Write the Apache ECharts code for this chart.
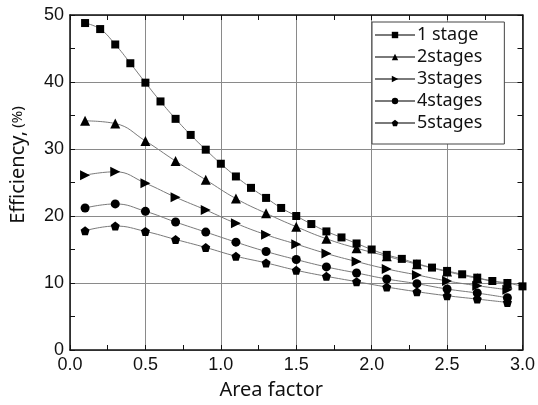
<!DOCTYPE html>
<html>
<head>
<meta charset="utf-8">
<script src="https://cdn.jsdelivr.net/npm/echarts@6/dist/echarts.min.js"></script>
<style>html,body{margin:0;padding:0;background:#fff;}#c{width:538px;height:405px;}</style>
</head>
<body>
<div id="c"></div>
<script>
var xFine = [0.1,0.2,0.3,0.4,0.5,0.6,0.7,0.8,0.9,1.0,1.1,1.2,1.3,1.4,1.5,1.6,1.7,1.8,1.9,2.0,2.1,2.2,2.3,2.4,2.5,2.6,2.7,2.8,2.9,3.0];
var xCoarse = [0.1,0.3,0.5,0.7,0.9,1.1,1.3,1.5,1.7,1.9,2.1,2.3,2.5,2.7,2.9];
var stage1 = [48.8,47.9,45.6,42.8,39.9,37.1,34.5,32.1,29.9,27.8,25.9,24.2,22.7,21.2,20.0,18.8,17.7,16.8,15.9,15.0,14.2,13.6,12.9,12.3,11.8,11.3,10.8,10.3,10.0,9.5];
var stage2 = [34.2,33.8,31.2,28.2,25.4,22.6,20.4,18.4,16.6,15.2,14.0,12.8,11.7,10.7,9.9];
var stage3 = [26.1,26.6,24.9,22.8,20.9,18.9,17.2,15.8,14.4,13.2,12.1,11.2,10.3,9.6,9.0];
var stage4 = [21.2,21.8,20.7,19.1,17.6,16.1,14.7,13.5,12.4,11.5,10.6,9.9,9.1,8.5,7.8];
var stage5 = [17.8,18.5,17.7,16.5,15.3,14.0,13.0,11.9,11.0,10.2,9.4,8.7,8.1,7.6,7.1];
var seriesNames = ['1 stage','2stages','3stages','4stages','5stages'];
var xTicks = ['0.0','0.5','1.0','1.5','2.0','2.5','3.0'];

function pairs(xs, ys){ return xs.map(function(x,i){ return [x, ys[i]]; }); }
var pentagon = 'path://M0,-1L0.951,-0.309L0.588,0.809L-0.588,0.809L-0.951,-0.309Z';

function mk(name, xs, ys, symbol, size, rot){
  return {
    name: name, type: 'line', data: pairs(xs, ys),
    smooth: 0.45, symbol: symbol, symbolSize: size, symbolRotate: rot || 0,
    showAllSymbol: true,
    itemStyle: {color: '#000'},
    lineStyle: {color: '#7a7a7a', width: 1},
    emphasis: {disabled: true},
    z: 3
  };
}

var chart = echarts.init(document.getElementById('c'), null, {renderer: 'canvas'});
var axisBase = {
  axisLine: {show: true, onZero: false, lineStyle: {color: '#111', width: 1.5}},
  axisTick: {show: true, inside: true, length: 5, lineStyle: {color: '#111', width: 1}},
  minorTick: {show: true, splitNumber: 2, length: 5, lineStyle: {color: '#111', width: 1}}
};
chart.setOption({
  animation: false,
  backgroundColor: '#fff',
  grid: {left: 67, right: 14, top: 15, bottom: 47, containLabel: false},
  legend: {
    orient: 'vertical', left: 372, top: 22,
    data: seriesNames,
    borderColor: '#444', borderWidth: 1,
    padding: [4, 22, 12, 2],
    itemWidth: 40, itemHeight: 8, itemGap: 4,
    textStyle: {fontFamily: 'Noto Sans', fontSize: 18, lineHeight: 17, color: '#111', padding: [0,0,0,-3]},
    backgroundColor: '#fff'
  },
  xAxis: [
    Object.assign({}, axisBase, {
      type: 'value', min: 0, max: 3, interval: 0.5, position: 'bottom',
      axisLabel: {fontFamily: 'Liberation Sans', fontSize: 18, color: '#111', margin: 6,
        formatter: function(v){ return xTicks[Math.round(v/0.5)]; }},
      splitLine: {show: true, lineStyle: {color: '#8a8a8a', width: 1}},
      name: 'Area factor', nameLocation: 'middle', nameGap: 30,
      nameTextStyle: {fontFamily: 'Noto Sans', fontSize: 20, color: '#111', padding: [0, 50, 0, 0]}
    }),
    Object.assign({}, axisBase, {
      type: 'value', min: 0, max: 3, interval: 0.5, position: 'top',
      axisLabel: {show: false}, splitLine: {show: false}
    })
  ],
  yAxis: [
    Object.assign({}, axisBase, {
      type: 'value', min: 0, max: 50, interval: 10, position: 'left',
      axisLabel: {fontFamily: 'Liberation Sans', fontSize: 18, color: '#111', margin: 6},
      splitLine: {show: true, lineStyle: {color: '#8a8a8a', width: 1}},
      name: '{a|Efficiency,} {b|(%)}', nameLocation: 'middle', nameGap: 42,
      nameTextStyle: {padding: [0, 0, 0, 35], rich: {
        a: {fontFamily: 'Noto Sans', fontSize: 20, color: '#111'},
        b: {fontFamily: 'Noto Sans', fontSize: 15, color: '#111'}
      }}
    }),
    Object.assign({}, axisBase, {
      type: 'value', min: 0, max: 50, interval: 10, position: 'right',
      axisLabel: {show: false}, splitLine: {show: false}
    })
  ],
  series: [
    mk(seriesNames[0], xFine, stage1, 'rect', 8),
    mk(seriesNames[1], xCoarse, stage2, 'triangle', 10),
    mk(seriesNames[2], xCoarse, stage3, 'triangle', 10, -90),
    mk(seriesNames[3], xCoarse, stage4, 'circle', 9),
    mk(seriesNames[4], xCoarse, stage5, pentagon, 9)
  ]
});
</script>
</body>
</html>
